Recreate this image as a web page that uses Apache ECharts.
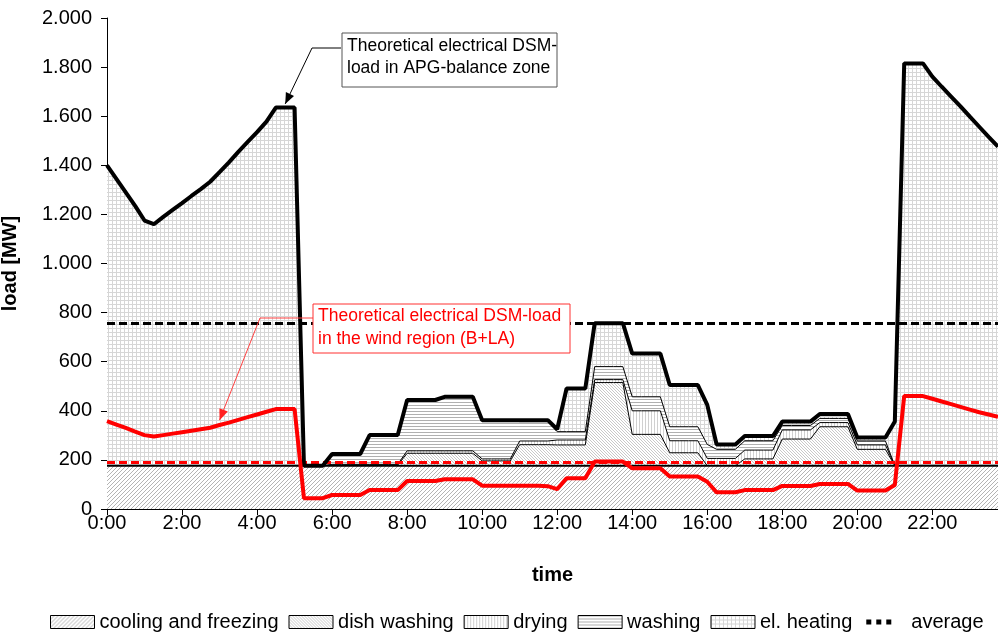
<!DOCTYPE html>
<html>
<head>
<meta charset="utf-8">
<script src="https://cdn.jsdelivr.net/npm/echarts@6/dist/echarts.min.js"></script>
<style>
html,body{margin:0;padding:0;background:#fff;}
#chart{width:998px;height:635px;}
</style>
</head>
<body>
<div id="chart"></div>
<script>
// ---- data (15-minute steps, 0:00 .. 23:45) ----
const times = [];
for (let i = 0; i < 96; i++) {
  const h = Math.floor(i / 4), m = (i % 4) * 15;
  times.push(h + ':' + String(m).padStart(2, '0'));
}

// total theoretical DSM load in APG balance zone (= top of el. heating)
const totalLoad = [
1400,1345,1290,1235,1175,1160,1190,1218,1246,1275,1303,1333,1372,1412,1455,1495,1535,1578,1635,1635,
1635,176,176,176,224,224,224,224,301,301,301,301,444,444,444,444,457,457,457,457,
362,362,362,362,362,362,362,362,325,491,491,491,757,757,757,757,633,633,633,633,
505,505,505,505,424,263,263,263,297,297,297,297,356,356,356,356,387,387,387,387,
291,291,291,291,356,1815,1815,1815,1761,1720,1680,1640,1598,1557,1516,1476];

// cumulative tops of the stacked layers
const coolingTop = [
176,176,176,176,176,176,176,176,176,176,176,176,176,176,176,176,176,176,176,176,
176,176,176,176,176,176,176,176,176,176,176,176,176,176,176,176,176,176,176,176,
176,176,176,176,176,176,176,176,176,176,176,176,176,176,176,176,176,176,176,176,
176,176,176,176,176,176,176,176,176,176,176,176,176,176,176,176,176,176,176,176,
176,176,176,176,176,176,176,176,176,176,176,176,176,176,176,176];

const dishTop = [
176,176,176,176,176,176,176,176,176,176,176,176,176,176,176,176,176,176,176,176,
176,176,176,176,179,179,179,179,179,179,179,179,227,227,227,227,227,227,227,227,
196,196,196,196,262,262,262,262,261,261,261,261,515,515,515,515,304,304,304,304,
229,229,229,229,176,176,176,176,204,204,204,204,285,285,285,285,335,335,335,335,
243,243,243,243,176,176,176,176,176,176,176,176,176,176,176,176];

const dryingTop = [
176,176,176,176,176,176,176,176,176,176,176,176,176,176,176,176,176,176,176,176,
176,176,176,176,182,182,182,182,182,182,182,182,237,237,237,237,237,237,237,237,
204,204,204,204,277,277,277,277,281,281,281,281,527,527,527,527,400,400,400,400,
278,278,278,278,206,206,206,206,240,240,240,240,322,322,322,322,352,352,352,352,
261,261,261,261,176,176,176,176,176,176,176,176,176,176,176,176];

const washingTop = [
176,176,176,176,176,176,176,176,176,176,176,176,176,176,176,176,176,176,176,176,
176,176,176,176,224,224,224,224,301,301,301,301,444,444,444,444,457,457,457,457,
362,362,362,362,356,356,356,356,315,315,315,315,580,580,580,580,457,457,457,457,
335,335,335,335,263,243,243,243,278,278,278,278,340,340,340,340,369,369,369,369,
277,277,277,277,176,176,176,176,176,176,176,176,176,176,176,176];

// theoretical DSM load in the wind region (B+LA)
const windLoad = [
358,344,330,315,301,295,301,307,313,319,325,331,342,352,363,374,385,396,407,407,
407,44,44,44,57,57,57,57,77,77,77,77,114,114,114,114,121,121,121,121,
95,95,95,95,95,95,95,93,81,125,125,125,193,193,193,193,166,166,166,166,
132,132,132,132,111,68,68,68,77,77,77,77,94,94,94,94,102,102,102,102,
75,75,75,75,98,460,460,460,449,438,427,416,405,394,385,376];

const avgAPG = 757;
const avgWind = 190;

const legendNames = ['cooling and freezing', 'dish washing', 'drying', 'washing', 'el. heating', 'average'];
const yTicks = { min: 0, max: 2000, interval: 200 };

// ---- patterns ----
function makePattern(size, pixels, color) {
  const c = document.createElement('canvas');
  c.width = size; c.height = size;
  const ctx = c.getContext('2d');
  ctx.fillStyle = '#fff'; ctx.fillRect(0, 0, size, size);
  ctx.fillStyle = color;
  for (let y = 0; y < size; y++) for (let x = 0; x < size; x++) if (pixels(x, y)) ctx.fillRect(x, y, 1, 1);
  return { image: c, repeat: 'repeat' };
}
const patCooling = makePattern(4, (x, y) => x === 3 - y, '#b4b4b4');
const patDish = makePattern(3, (x, y) => x === y, '#c8c8c8');
const patDrying = makePattern(3, (x, y) => x === 0, '#d0d0d0');
const patWashing = makePattern(3, (x, y) => y === 0, '#b0b0b0');
const patHeating = makePattern(4, (x, y) => x === 0 || y === 0, '#d6d6d6');

const FONT = '"Liberation Sans", Arial, sans-serif';

const chart = echarts.init(document.getElementById('chart'), null, { renderer: 'canvas' });

function areaSeries(name, data, pat, lw, z) {
  return {
    name, type: 'line', data, symbol: 'none', z,
    lineStyle: { color: '#000', width: lw },
    itemStyle: { color: '#000' },
    areaStyle: { color: pat, opacity: 1 },
    emphasis: { disabled: true }
  };
}

const option = {
  animation: false,
  grid: { left: 107, right: 0, top: 18, bottom: 126, containLabel: false, outerBoundsMode: 'none' },
  legend: {
    left: 45, top: 607, itemWidth: 44, itemHeight: 13, itemGap: 10,
    selectedMode: false,
    textStyle: { fontSize: 20, color: '#000', fontFamily: FONT },
    data: [
      { name: legendNames[0], icon: 'rect', itemStyle: { color: patCooling, borderColor: '#000', borderWidth: 1 } },
      { name: legendNames[1], icon: 'rect', itemStyle: { color: patDish, borderColor: '#000', borderWidth: 1 } },
      { name: legendNames[2], icon: 'rect', itemStyle: { color: patDrying, borderColor: '#000', borderWidth: 1 } },
      { name: legendNames[3], icon: 'rect', itemStyle: { color: patWashing, borderColor: '#000', borderWidth: 1 } },
      { name: legendNames[4], icon: 'rect', itemStyle: { color: patHeating, borderColor: '#000', borderWidth: 1 } },
      { name: legendNames[5], icon: 'path://M0,0 M44,13 M4,4h5v5h-5z M14,4h5v5h-5z M24,4h5v5h-5z', itemStyle: { color: '#000', borderWidth: 0 } }
    ]
  },
  xAxis: {
    type: 'category', data: times, boundaryGap: false,
    name: 'time', nameLocation: 'middle', nameGap: 56,
    nameTextStyle: { fontSize: 20, fontWeight: 'bold', color: '#000', fontFamily: FONT },
    axisLine: { show: true, lineStyle: { color: '#000', width: 1 } },
    axisTick: { show: true, interval: 7, length: 6, lineStyle: { color: '#000' } },
    axisLabel: { interval: 7, fontSize: 20, color: '#000', fontFamily: FONT, margin: 4 },
    splitLine: { show: false }
  },
  yAxis: {
    type: 'value', min: yTicks.min, max: yTicks.max, interval: yTicks.interval,
    name: 'load [MW]', nameLocation: 'middle', nameGap: 87, nameRotate: 90,
    nameTextStyle: { fontSize: 20, fontWeight: 'bold', color: '#000', fontFamily: FONT },
    axisLine: { show: true, lineStyle: { color: '#000', width: 1 } },
    axisTick: { show: true, length: 6, lineStyle: { color: '#000' } },
    axisLabel: {
      fontSize: 20, color: '#000', fontFamily: FONT, margin: 15,
      formatter: v => v >= 1000 ? Math.floor(v / 1000) + '.' + String(v % 1000).padStart(3, '0') : String(v)
    },
    splitLine: { show: false }
  },
  series: [
    areaSeries('el. heating', totalLoad, patHeating, 0, 1),
    areaSeries('washing', washingTop, patWashing, 1, 2),
    areaSeries('drying', dryingTop, patDrying, 1, 3),
    areaSeries('dish washing', dishTop, patDish, 1, 4),
    areaSeries('cooling and freezing', coolingTop, patCooling, 2, 5),
    {
      name: 'average', type: 'line', data: [], symbol: 'none', z: 6,
      lineStyle: { color: '#000', type: [8, 4], width: 3 },
      itemStyle: { color: '#000' },
      markLine: {
        silent: true, symbol: 'none', label: { show: false }, animation: false,
        data: [
          { yAxis: avgAPG, lineStyle: { color: '#000', type: [8, 4], width: 3 } },
          { yAxis: avgWind, lineStyle: { color: '#ff0000', type: [8, 4], width: 3 } }
        ]
      }
    },
    {
      name: 'Theoretical electrical DSM-load in APG-balance zone', type: 'line', data: totalLoad,
      symbol: 'none', z: 7, lineStyle: { color: '#000', width: 4 }, itemStyle: { color: '#000' }
    },
    {
      name: 'Theoretical electrical DSM-load in the wind region (B+LA)', type: 'line', data: windLoad,
      symbol: 'none', z: 8, lineStyle: { color: '#ff0000', width: 4 }, itemStyle: { color: '#ff0000' }
    }
  ]
};
chart.setOption(option);

// ---- annotations ----
function arrowHead(tip, from, color) {
  const dx = tip[0] - from[0], dy = tip[1] - from[1];
  const len = Math.sqrt(dx * dx + dy * dy);
  const ux = dx / len, uy = dy / len;
  const L = 11, W = 4.5;
  const bx = tip[0] - ux * L, by = tip[1] - uy * L;
  return {
    type: 'polygon', z: 100,
    shape: { points: [tip, [bx - uy * W, by + ux * W], [bx + uy * W, by - ux * W]] },
    style: { fill: color }
  };
}
const tip1 = chart.convertToPixel({ xAxisIndex: 0, yAxisIndex: 0 }, [19, 1650]);
const tip2 = chart.convertToPixel({ xAxisIndex: 0, yAxisIndex: 0 }, [12, 362]);
const p1 = [[341, 48], [312, 48], tip1];
const p2 = [[313, 318], [260, 318], tip2];
chart.setOption({
  graphic: [
    { type: 'polyline', z: 100, shape: { points: p1 }, style: { stroke: '#000', lineWidth: 1, fill: null } },
    arrowHead(tip1, p1[1], '#000'),
    { type: 'rect', z: 100, shape: { x: 342, y: 33, width: 215, height: 54 }, style: { fill: '#fff', stroke: '#555', lineWidth: 1 } },
    { type: 'text', z: 101, x: 347, y: 35, style: { text: 'Theoretical electrical DSM-\nload in APG-balance zone', fontSize: 17.5, fontFamily: FONT, fill: '#000', lineHeight: 22, verticalAlign: 'top' } },
    { type: 'polyline', z: 100, shape: { points: p2 }, style: { stroke: '#ff4040', lineWidth: 1, fill: null } },
    arrowHead(tip2, p2[1], '#ff2020'),
    { type: 'rect', z: 100, shape: { x: 313, y: 304, width: 257, height: 49 }, style: { fill: '#fff', stroke: '#ff3030', lineWidth: 1 } },
    { type: 'text', z: 101, x: 318, y: 305, style: { text: 'Theoretical electrical DSM-load\nin the wind region (B+LA)', fontSize: 17.5, fontFamily: FONT, fill: '#ff0000', lineHeight: 23, verticalAlign: 'top' } }
  ]
});
</script>
</body>
</html>
